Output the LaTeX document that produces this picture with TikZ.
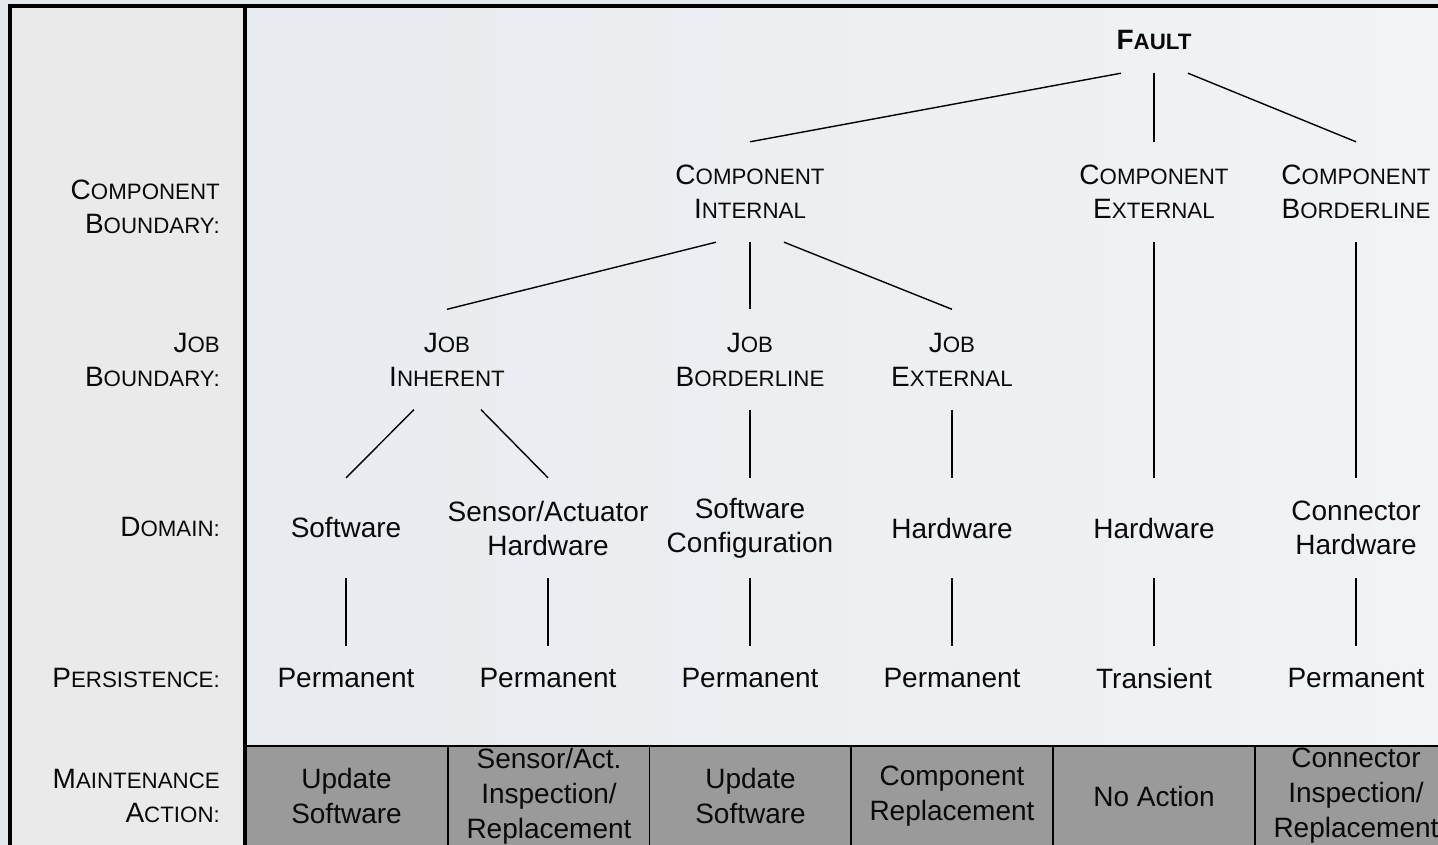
\documentclass[tikz,border=0pt]{standalone}
\usepackage{fontspec}
\setmainfont{Liberation Sans}
\usetikzlibrary{calc}
\definecolor{bgc}{HTML}{E4E8ED}
\definecolor{panel}{HTML}{EAEAEA}
\definecolor{mainbgL}{HTML}{E8EBEF}
\definecolor{mainbgR}{HTML}{F1F3F6}
\definecolor{cellgray}{HTML}{9A9A9A}
\definecolor{ink}{HTML}{0A0A0A}
\newcommand\SC[2]{#1{\fontsize{22.3}{26}\selectfont #2}}
\begin{document}
\begin{tikzpicture}[x=1pt,y=-1pt,
 every node/.style={text=ink, font=\fontsize{28}{34}\selectfont},
 tn/.style={inner sep=0pt, align=center, minimum height=100pt},
 pn/.style={inner sep=0pt, align=center, minimum height=64pt},
 lab/.style={anchor=east, align=right, inner sep=0pt},
 cell/.style={draw=black, line width=1.2pt, fill=cellgray, minimum width=202pt, minimum height=100pt, inner sep=0pt, align=center, font=\fontsize{28}{35}\selectfont},
 conn/.style={line width=1.4pt, draw=black},
 frame/.style={line width=3.2pt, draw=black}]

\useasboundingbox (0,0) rectangle (1438,845);
\fill[bgc] (0,0) rectangle (1438,845);
\shade[left color=mainbgL, right color=mainbgR] (245,6) rectangle (1440,746);
\fill[panel] (10,6) rectangle (245,850);

% left labels
\node[lab] (lcb) at (220,207) {\SC{C}{OMPONENT}\\\SC{B}{OUNDARY:}};
\node[lab] (ljb) at (220,360) {\SC{J}{OB}\\\SC{B}{OUNDARY:}};
\node[lab] (ldo) at (220,527) {\SC{D}{OMAIN:}};
\node[lab] (lpe) at (220,678) {\SC{P}{ERSISTENCE:}};
\node[lab] (lma) at (220,796) {\SC{M}{AINTENANCE}\\\SC{A}{CTION:}};

% tree nodes
\node[tn, minimum height=66pt, font=\bfseries\fontsize{28}{34}\selectfont] (fault) at (1154,40) {\SC{F}{AULT}};
\node[tn] (ci) at (750,192) {\SC{C}{OMPONENT}\\\SC{I}{NTERNAL}};
\node[tn] (ce) at (1154,192) {\SC{C}{OMPONENT}\\\SC{E}{XTERNAL}};
\node[tn] (cb) at (1356,192) {\SC{C}{OMPONENT}\\\SC{B}{ORDERLINE}};
\node[tn] (ji) at (447,359.5) {\SC{J}{OB}\\\SC{I}{NHERENT}};
\node[tn] (jb) at (750,359.5) {\SC{J}{OB}\\\SC{B}{ORDERLINE}};
\node[tn] (je) at (952,359.5) {\SC{J}{OB}\\\SC{E}{XTERNAL}};

\node[tn] (d1) at (346,528) {Software};
\node[tn] (d2) at (548,528) {Sensor/Actuator\\Hardware};
\node[tn] (d3) at (750,528) {Software\\Configuration};
\node[tn] (d4) at (952,528) {Hardware};
\node[tn] (d5) at (1154,528) {Hardware};
\node[tn] (d6) at (1356,528) {Connector\\Hardware};

\node[pn] (p1) at (346,678) {Permanent};
\node[pn] (p2) at (548,678) {Permanent};
\node[pn] (p3) at (750,678) {Permanent};
\node[pn] (p4) at (952,678) {Permanent};
\node[pn] (p5) at (1154,678) {Transient};
\node[pn] (p6) at (1356,678) {Permanent};

% maintenance cells
\node[cell] (m1) at (346.5,796) {Update\\Software};
\node[cell] (m2) at (549,796) {Sensor/Act.\\Inspection/\\Replacement};
\node[cell] (m3) at (750.5,796) {Update\\Software};
\node[cell] (m4) at (952,796) {Component\\Replacement};
\node[cell] (m5) at (1154,796) {No Action};
\node[cell] (m6) at (1356,796) {Connector\\Inspection/\\Replacement};

% frame
\draw[frame] (10,850) -- (10,6) -- (1440,6);
\draw[frame] (245,6) -- (245,850);
\draw[line width=1.8pt] (245,746) -- (1440,746);

% connectors
\draw[conn] ($(fault.south)+(-33,0)$) -- (ci.north);
\draw[conn] (fault.south) -- (ce.north);
\draw[conn] ($(fault.south)+(34,0)$) -- (cb.north);
\draw[conn] ($(ci.south)+(-34,0)$) -- (ji.north);
\draw[conn] (ci.south) -- (jb.north);
\draw[conn] ($(ci.south)+(34,0)$) -- (je.north);
\draw[conn] (ce.south) -- (d5.north);
\draw[conn] (cb.south) -- (d6.north);
\draw[conn] ($(ji.south)+(-33,0)$) -- (d1.north);
\draw[conn] ($(ji.south)+(34,0)$) -- (d2.north);
\draw[conn] (jb.south) -- (d3.north);
\draw[conn] (je.south) -- (d4.north);
\foreach \i in {1,...,6}{\draw[conn] (d\i.south) -- (p\i.north);}
\end{tikzpicture}
\end{document}
